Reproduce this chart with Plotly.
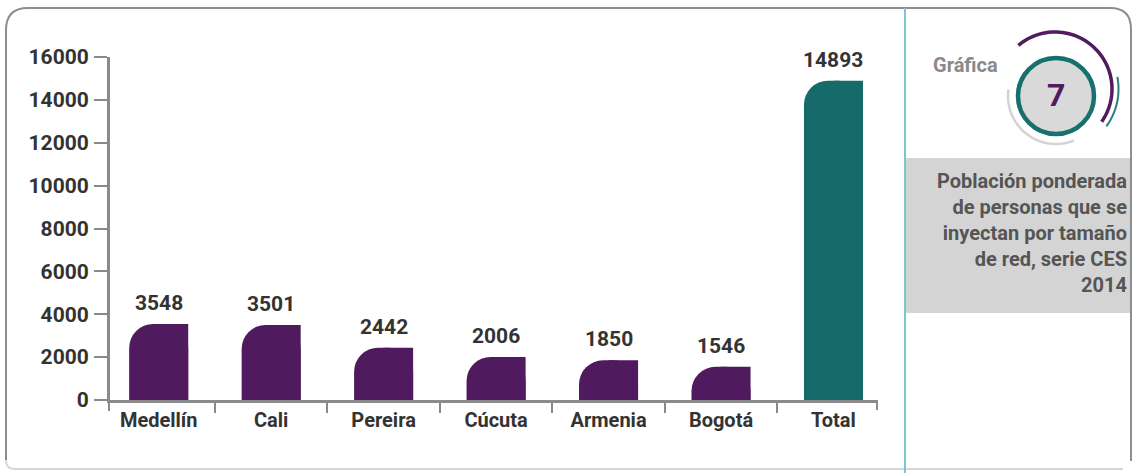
import numpy as np
import plotly.graph_objects as go

# ---- data -------------------------------------------------------------
ciudades = ["Medellín", "Cali", "Pereira", "Cúcuta", "Armenia", "Bogotá", "Total"]
poblacion = [3548, 3501, 2442, 2006, 1850, 1546, 14893]
y_ticks = [0, 2000, 4000, 6000, 8000, 10000, 12000, 14000, 16000]
titulo = "Población ponderada<br>de personas que se<br>inyectan por tamaño<br>de red, serie CES<br>2014"
etiqueta = "Gráfica"
numero = "7"

# ---- styling ----------------------------------------------------------
W, H = 1134, 473
PURPLE = "#4f1a5e"
TEAL = "#166b6a"
AXIS = "#8a8a8a"
TXT = "#333333"
FONT = "Roboto"
bar_colors = [TEAL if c == "Total" else PURPLE for c in ciudades]
BAR_W = 0.525


def X(px):
    return px / W


def Y(py):
    return 1 - py / H


def arc_path(cx, cy, r, a0, a1, n=60):
    t = np.radians(np.linspace(a0, a1, n))
    pts = [(X(cx + r * np.cos(a)), Y(cy - r * np.sin(a))) for a in t]
    return "M " + " L ".join(f"{x:.5f},{y:.5f}" for x, y in pts)


fig = go.Figure()

# rounded bars: a full-width bar with rounded top, plus a square right half
fig.add_trace(go.Bar(
    x=ciudades, y=poblacion, width=BAR_W, offset=-BAR_W / 2,
    marker=dict(color=bar_colors, cornerradius=24, line=dict(width=0)),
    hoverinfo="skip", showlegend=False,
))
fig.add_trace(go.Bar(
    x=ciudades, y=poblacion, width=BAR_W / 2, offset=0,
    marker=dict(color=bar_colors, line=dict(width=0)),
    hoverinfo="skip", showlegend=False,
))

annotations = []
for c, v in zip(ciudades, poblacion):
    annotations.append(dict(
        x=c, y=v, xref="x", yref="y", text=str(v), showarrow=False,
        yanchor="bottom", yshift=7,
        font=dict(family=FONT, size=21, color=TXT, weight=700),
    ))

# side panel texts
annotations.append(dict(
    x=X(931), y=Y(65), xref="paper", yref="paper", text=etiqueta,
    showarrow=False, xanchor="left", yanchor="middle",
    font=dict(family=FONT, size=20, color="#8a8a8a", weight=700),
))
annotations.append(dict(
    x=X(1056), y=Y(95), xref="paper", yref="paper", text=numero,
    showarrow=False, xanchor="center", yanchor="middle",
    font=dict(family=FONT, size=32, color=PURPLE, weight=700),
))
annotations.append(dict(
    x=X(1129), y=Y(233), xref="paper", yref="paper", text=titulo,
    showarrow=False, xanchor="right", yanchor="middle", align="right",
    font=dict(family=FONT, size=20, color="#555555", weight=700),
))

shapes = [
    # card background
    dict(type="path", xref="paper", yref="paper", layer="below",
         path=(f"M {X(6)},{Y(30)} Q {X(6)},{Y(8)} {X(28)},{Y(8)} "
               f"L {X(1110)},{Y(8)} Q {X(1131)},{Y(8)} {X(1131)},{Y(29)} "
               f"L {X(1131)},{Y(461)} Q {X(1131)},{Y(469)} {X(1123)},{Y(469)} "
               f"L {X(15)},{Y(469)} Q {X(6)},{Y(469)} {X(6)},{Y(460)} Z"),
         fillcolor="white", line=dict(width=0)),
    # card border (left, top, right)
    dict(type="path", xref="paper", yref="paper", layer="below",
         path=(f"M {X(6)},{Y(460)} L {X(6)},{Y(30)} Q {X(6)},{Y(8)} {X(28)},{Y(8)} "
               f"L {X(1110)},{Y(8)} Q {X(1131)},{Y(8)} {X(1131)},{Y(29)} "
               f"L {X(1131)},{Y(461)}"),
         line=dict(color="#8e8e8e", width=2)),
    dict(type="path", xref="paper", yref="paper", layer="below",
         path=f"M {X(6)},{Y(460)} Q {X(6)},{Y(469)} {X(15)},{Y(469)} L {X(1123)},{Y(469)}",
         line=dict(color="#d6d6d6", width=2)),
    # title box
    dict(type="rect", xref="paper", yref="paper", layer="below",
         x0=X(906), x1=X(1130), y0=Y(313), y1=Y(158),
         fillcolor="#d4d4d4", line=dict(width=0)),
    # divider
    dict(type="line", xref="paper", yref="paper", layer="below",
         x0=X(905), x1=X(905), y0=Y(8), y1=Y(473),
         line=dict(color="#7fc3d4", width=2)),
    # end ticks of the category axis
    dict(type="line", xref="paper", yref="paper",
         x0=X(109), x1=X(109), y0=Y(400), y1=Y(411),
         line=dict(color=AXIS, width=2)),
    dict(type="line", xref="paper", yref="paper",
         x0=X(877), x1=X(877), y0=Y(400), y1=Y(410),
         line=dict(color=AXIS, width=2)),
    # emblem
    dict(type="path", xref="paper", yref="paper",
         path=arc_path(1056, 96, 48, 172, 292), line=dict(color="#d2d2d2", width=2.5)),
    dict(type="circle", xref="paper", yref="paper",
         x0=X(1056 - 38), x1=X(1056 + 38), y0=Y(96 + 38), y1=Y(96 - 38),
         fillcolor="#d9d9d9", line=dict(color="#17706c", width=4.5)),
    dict(type="path", xref="paper", yref="paper",
         path=arc_path(1055, 89, 57, 130, -35), line=dict(color="#511b60", width=3.5)),
    dict(type="path", xref="paper", yref="paper",
         path=arc_path(1055, 89, 63.5, 11, -36), line=dict(color="#2a7d78", width=2)),
]

fig.update_layout(
    width=W, height=H, autosize=False,
    margin=dict(l=0, r=0, t=0, b=0),
    paper_bgcolor="white", plot_bgcolor="rgba(0,0,0,0)",
    barmode="overlay", showlegend=False,
    font=dict(family=FONT, color=TXT),
    annotations=annotations, shapes=shapes,
    xaxis=dict(
        domain=[X(110), X(877)], type="category", range=[-0.433, 6.387],
        showline=True, linecolor=AXIS, linewidth=3,
        ticks="outside", tickson="boundaries", ticklen=10, tickwidth=2, tickcolor=AXIS,
        tickfont=dict(family=FONT, size=20, color=TXT, weight=700),
        showgrid=False, zeroline=False, fixedrange=True, automargin=False,
    ),
    yaxis=dict(
        domain=[Y(400), Y(57)], range=[0, 16000], tickvals=y_ticks,
        tickformat="d",
        showline=True, linecolor=AXIS, linewidth=3,
        ticks="outside", ticklen=13, tickwidth=2, tickcolor=AXIS,
        ticklabelstandoff=1,
        tickfont=dict(family=FONT, size=21, color=TXT, weight=700),
        showgrid=False, zeroline=False, fixedrange=True, automargin=False,
    ),
)

fig.write_html("out.html")
